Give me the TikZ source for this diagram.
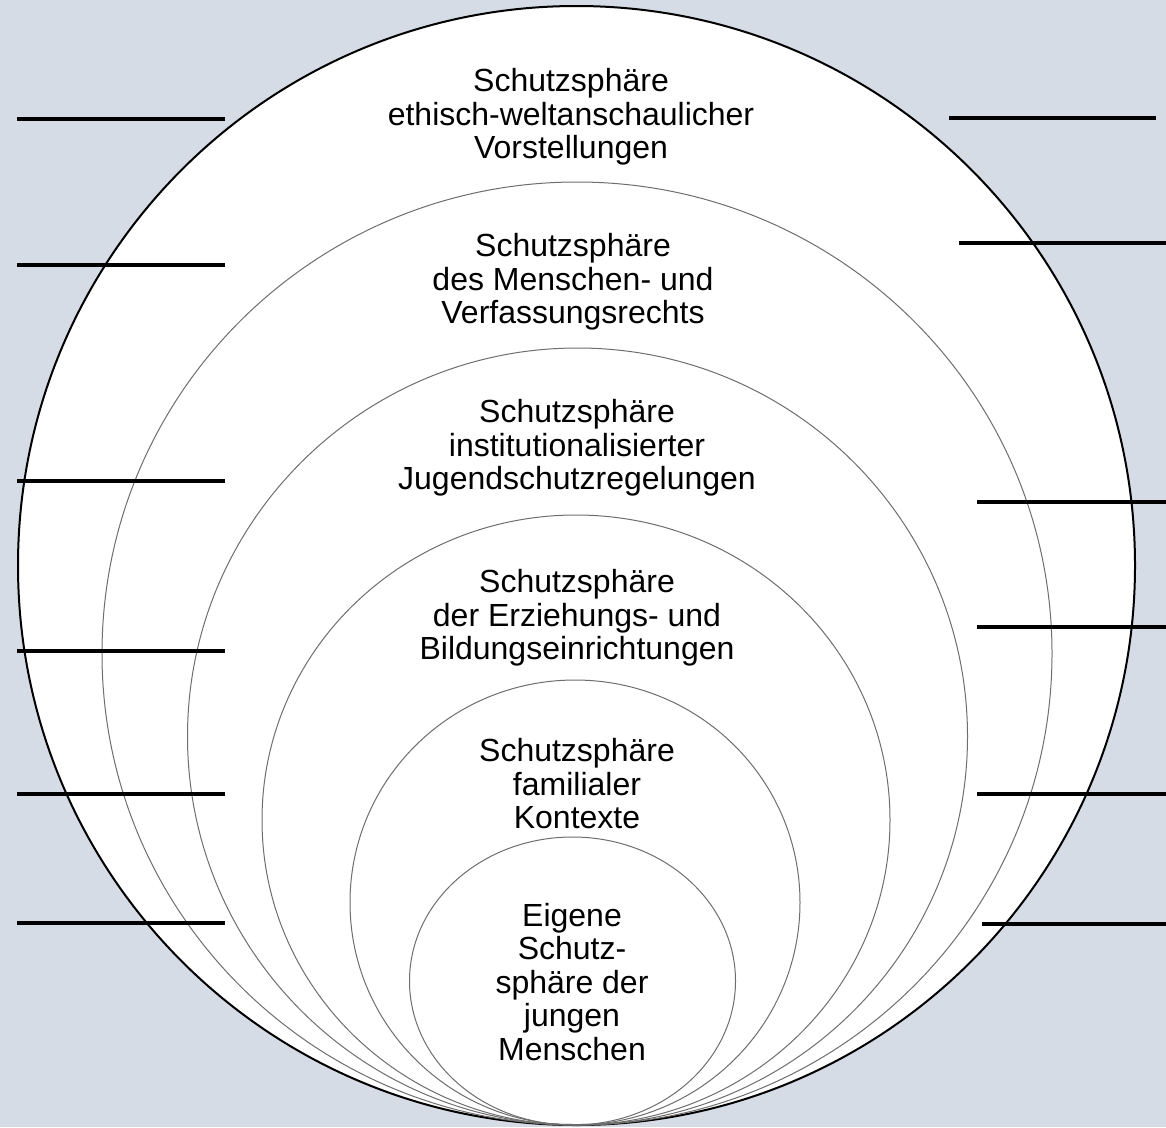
\documentclass[tikz,border=0pt]{standalone}
\usepackage{fontspec}
\setmainfont{Liberation Sans}
\usetikzlibrary{shapes.geometric}
\definecolor{bgcol}{HTML}{D6DCE5}
\definecolor{ringcol}{HTML}{6E6E6E}
\begin{document}
\begin{tikzpicture}[x=1pt,y=-1pt,
  outerring/.style={ellipse, draw=black, line width=2pt, fill=white, inner sep=0pt},
  ring/.style={ellipse, draw=ringcol, line width=1pt, inner sep=0pt},
  label/.style={align=center, inner sep=0pt, font=\fontsize{32}{33.5}\selectfont},
  tick/.style={line width=3.5pt, draw=black}]
\fill[bgcol] (0,0) rectangle (1166,1127);
\useasboundingbox (0,0) rectangle (1166,1127);
% rings
\node[outerring, minimum width=1117pt, minimum height=1119pt] (r1) at (576.5,565.5) {};
\node[ring, minimum width=950pt, minimum height=943pt] (r2) at (577,653.5) {};
\node[ring, minimum width=780pt, minimum height=777pt] (r3) at (577.5,736.5) {};
\node[ring, minimum width=628pt, minimum height=610pt] (r4) at (576,820) {};
\node[ring, minimum width=450pt, minimum height=445pt] (r5) at (575,902.5) {};
\node[ring, minimum width=326pt, minimum height=288pt] (r6) at (572.5,981) {};
% texts
\node[label] (t1) at (571,117) {Schutzsphäre\\ethisch-weltanschaulicher\\Vorstellungen};
\node[label] (t2) at (573,282) {Schutzsphäre\\des Menschen- und\\Verfassungsrechts};
\node[label] (t3) at (577,448) {Schutzsphäre\\institutionalisierter\\Jugendschutzregelungen};
\node[label] (t4) at (577,618) {Schutzsphäre\\der Erziehungs- und\\Bildungseinrichtungen};
\node[label] (t5) at (577,784) {Schutzsphäre\\familialer\\Kontexte};
\node[label] (t6) at (572,982) {Eigene\\Schutz-\\sphäre der\\jungen\\Menschen};
% left ticks
\foreach \i/\y in {1/119,2/265,3/481,4/651,5/794,6/923}{
  \coordinate (la\i) at (17,\y);
  \coordinate (lb\i) at (225,\y);
  \draw[tick] (la\i) -- (lb\i);
}
% right ticks
\foreach \i/\xa/\xb/\y in {1/949/1156/118,2/959/1166/243,3/977/1166/502,4/977/1166/627,5/977/1166/794,6/982/1166/924}{
  \coordinate (ra\i) at (\xa,\y);
  \coordinate (rb\i) at (\xb,\y);
  \draw[tick] (ra\i) -- (rb\i);
}
\end{tikzpicture}
\end{document}
